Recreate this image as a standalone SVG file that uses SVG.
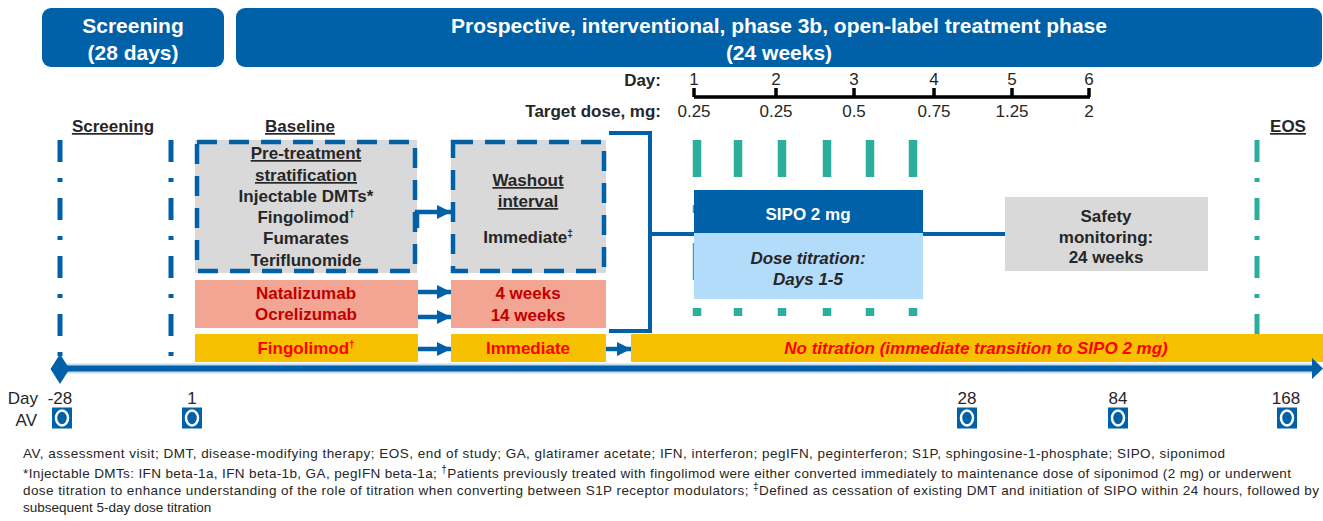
<svg xmlns="http://www.w3.org/2000/svg" width="1323" height="521" viewBox="0 0 1323 521">
  <style>
    text { font-family: "Liberation Sans", Arial, sans-serif; }
    .hd { font-size: 21px; font-weight: bold; fill: #ffffff; text-anchor: middle; }
    .lb { font-size: 17px; font-weight: bold; fill: #262626; text-anchor: middle; }
    .ul { text-decoration: underline; }
    .rd { fill: #c00000; }
    .rr { fill: #ff0000; }
    .wt { fill: #ffffff; }
    .it { font-style: italic; }
    .num { font-size: 17px; fill: #262626; text-anchor: middle; }
    .rt { text-anchor: end; }
    .fn { font-size: 13.5px; fill: #262626; }
    .sup { font-size: 10px; }
    .blue-line { stroke: #0060a8; stroke-width: 4; fill: none; }
    .arrow { stroke: #0060a8; stroke-width: 4.5; fill: none; marker-end: url(#head); }
    .dashdot { stroke-width: 5; fill: none; stroke-dasharray: 22 16 4 16; }
    .teal { stroke: #2bae9c; stroke-width: 8.5; fill: none; stroke-dasharray: 37 28 8 30; }
    .frame { fill: none; stroke: #0060a8; stroke-width: 4.5; stroke-dasharray: 20 12; }
  </style>
  <defs>
    <marker id="head" viewBox="0 0 10 10" refX="10" refY="5" markerWidth="14" markerHeight="14" markerUnits="userSpaceOnUse" orient="auto">
      <path d="M0,0 L10,5 L0,10 z" fill="#0060a8"/>
    </marker>
    <g id="av">
      <rect x="-10" y="-10.5" width="20" height="21" fill="#0060a8"/>
      <ellipse cx="0" cy="0" rx="6" ry="7.5" fill="none" stroke="#ffffff" stroke-width="2.5"/>
    </g>
  </defs>

  <!-- phase headers -->
  <g id="header-screening">
    <rect x="42" y="8" width="182" height="59" rx="9" fill="#0060a8"/>
    <text class="hd" x="133" y="33">Screening</text>
    <text class="hd" x="133" y="60">(28 days)</text>
  </g>
  <g id="header-treatment">
    <rect x="236" y="8" width="1086" height="59" rx="9" fill="#0060a8"/>
    <text class="hd" x="779" y="33">Prospective, interventional, phase 3b, open-label treatment phase</text>
    <text class="hd" x="779" y="60">(24 weeks)</text>
  </g>

  <!-- titration day ruler -->
  <g id="day-ruler">
    <text class="lb rt" x="661" y="86">Day:</text>
    <text class="lb rt" x="661" y="117">Target dose, mg:</text>
    <g class="num">
      <text x="694" y="85">1</text>
      <text x="776" y="85">2</text>
      <text x="854" y="85">3</text>
      <text x="934" y="85">4</text>
      <text x="1012" y="85">5</text>
      <text x="1089" y="85">6</text>
      <text x="694" y="117">0.25</text>
      <text x="776" y="117">0.25</text>
      <text x="854" y="117">0.5</text>
      <text x="934" y="117">0.75</text>
      <text x="1012" y="117">1.25</text>
      <text x="1089" y="117">2</text>
    </g>
    <path d="M694,97 H1090 M694,88 V97 M776,88 V97 M854,88 V97 M934,88 V97 M1012,88 V97 M1089,88 V97" stroke="#000000" stroke-width="3.5" fill="none"/>
  </g>

  <!-- milestone labels -->
  <g id="milestones">
    <text class="lb ul" x="113" y="132">Screening</text>
    <text class="lb ul" x="300" y="132">Baseline</text>
    <text class="lb ul" x="1288" y="132">EOS</text>
  </g>

  <!-- vertical milestone markers -->
  <g id="markers">
    <line class="dashdot" x1="60" y1="140" x2="60" y2="358" stroke="#0060a8"/>
    <line class="dashdot" x1="171" y1="140" x2="171" y2="358" stroke="#0060a8"/>
    <line class="dashdot" x1="1257" y1="140" x2="1257" y2="336" stroke="#2bae9c"/>
    <line class="teal" x1="697" y1="140" x2="697" y2="317"/>
    <line class="teal" x1="738" y1="140" x2="738" y2="317"/>
    <line class="teal" x1="782" y1="140" x2="782" y2="317"/>
    <line class="teal" x1="827" y1="140" x2="827" y2="317"/>
    <line class="teal" x1="870" y1="140" x2="870" y2="317"/>
    <line class="teal" x1="913" y1="140" x2="913" y2="317"/>
  </g>

  <!-- prior therapy -->
  <g id="pretreatment">
    <rect x="195" y="140" width="222" height="133" fill="#d9d9d9"/>
    <rect class="frame" x="197" y="142" width="218" height="129"/>
    <text class="lb ul" x="306" y="159">Pre-treatment</text>
    <text class="lb ul" x="306" y="181">stratification</text>
    <text class="lb" x="306" y="202">Injectable DMTs*</text>
    <text class="lb" x="306" y="223">Fingolimod<tspan class="sup" baseline-shift="6">†</tspan></text>
    <text class="lb" x="306" y="244">Fumarates</text>
    <text class="lb" x="306" y="266">Teriflunomide</text>
  </g>
  <g id="washout">
    <rect x="451" y="140" width="155" height="133" fill="#d9d9d9"/>
    <rect class="frame" x="453" y="142" width="151" height="129"/>
    <text class="lb ul" x="528" y="186">Washout</text>
    <text class="lb ul" x="528" y="207">interval</text>
    <text class="lb" x="528" y="243">Immediate<tspan class="sup" baseline-shift="6">‡</tspan></text>
  </g>
  <g id="antibodies">
    <rect x="195" y="280" width="223" height="48" fill="#f2a592"/>
    <text class="lb rd" x="306" y="299">Natalizumab</text>
    <text class="lb rd" x="306" y="320">Ocrelizumab</text>
  </g>
  <g id="antibody-washout">
    <rect x="451" y="280" width="155" height="48" fill="#f2a592"/>
    <text class="lb rd" x="528" y="299">4 weeks</text>
    <text class="lb rd" x="528" y="321">14 weeks</text>
  </g>
  <g id="fingolimod">
    <rect x="195" y="334" width="223" height="28" fill="#f7c000"/>
    <text class="lb rr" x="306" y="354">Fingolimod<tspan class="sup" baseline-shift="6">†</tspan></text>
  </g>
  <g id="fingolimod-washout">
    <rect x="451" y="334" width="155" height="28" fill="#f7c000"/>
    <text class="lb rr" x="528" y="354">Immediate</text>
  </g>
  <g id="no-titration">
    <rect x="631" y="334" width="692" height="28" fill="#f7c000"/>
    <text class="lb rr it" x="976" y="354">No titration (immediate transition to SIPO 2 mg)</text>
  </g>

  <!-- siponimod dosing -->
  <g id="sipo">
    <rect x="694" y="190" width="229" height="43" fill="#0060a8"/>
    <text class="lb wt" x="808" y="220">SIPO 2 mg</text>
  </g>
  <g id="titration">
    <rect x="694" y="233" width="229" height="66" fill="#b3dbfa"/>
    <text class="lb it" x="808" y="264" fill="#000000">Dose titration:</text>
    <text class="lb it" x="808" y="285" fill="#000000">Days 1-5</text>
  </g>
  <g id="safety">
    <rect x="1005" y="197" width="203" height="74" fill="#d9d9d9"/>
    <text class="lb" x="1106" y="222">Safety</text>
    <text class="lb" x="1106" y="243">monitoring:</text>
    <text class="lb" x="1106" y="263">24 weeks</text>
  </g>

  <!-- connectors -->
  <g id="connectors">
    <path class="arrow" d="M417,228 V212 H451"/>
    <path class="arrow" d="M418,292 H451"/>
    <path class="arrow" d="M418,317 H451"/>
    <path class="arrow" d="M418,349 H451"/>
    <path class="arrow" d="M606,349 H631"/>
    <path class="blue-line" d="M609,133 H650 V331 H609 M650,234 H694"/>
    <path class="blue-line" d="M923,234 H1005"/>
  </g>

  <!-- study timeline -->
  <g id="timeline">
    <line x1="60" y1="368.5" x2="1313" y2="368.5" stroke="#c3dcf0" stroke-width="10"/>
    <line x1="60" y1="368.5" x2="1313" y2="368.5" stroke="#0060a8" stroke-width="6"/>
    <path d="M1312,358 L1323,368.5 L1312,379 z" fill="#0060a8"/>
    <path d="M60,354 L69.5,369 L60,384 L50.5,369 z" fill="#0060a8"/>
  </g>

  <!-- assessment visits -->
  <g id="visits">
    <text class="num rt" x="38" y="404">Day</text>
    <text class="num rt" x="37" y="426">AV</text>
    <text class="num" x="60" y="404">-28</text>
    <text class="num" x="192" y="404">1</text>
    <text class="num" x="967" y="404">28</text>
    <text class="num" x="1118" y="404">84</text>
    <text class="num" x="1286" y="404">168</text>
    <use href="#av" x="62" y="418"/>
    <use href="#av" x="192" y="418"/>
    <use href="#av" x="967" y="418"/>
    <use href="#av" x="1118" y="418"/>
    <use href="#av" x="1287" y="418"/>
  </g>

  <!-- footnotes -->
  <g id="footnotes">
    <text class="fn" x="23" y="458" textLength="1202">AV, assessment visit; DMT, disease-modifying therapy; EOS, end of study; GA, glatiramer acetate; IFN, interferon; pegIFN, peginterferon; S1P, sphingosine-1-phosphate; SIPO, siponimod</text>
    <text class="fn" x="23" y="478" textLength="1268">*Injectable DMTs: IFN beta-1a, IFN beta-1b, GA, pegIFN beta-1a; <tspan class="sup" baseline-shift="5">†</tspan>Patients previously treated with fingolimod were either converted immediately to maintenance dose of siponimod (2 mg) or underwent</text>
    <text class="fn" x="23" y="495" textLength="1296">dose titration to enhance understanding of the role of titration when converting between S1P receptor modulators; <tspan class="sup" baseline-shift="5">‡</tspan>Defined as cessation of existing DMT and initiation of SIPO within 24 hours, followed by</text>
    <text class="fn" x="23" y="512">subsequent 5-day dose titration</text>
  </g>
</svg>
